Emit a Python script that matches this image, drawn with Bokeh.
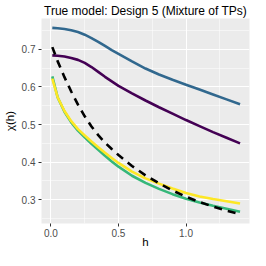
from bokeh.plotting import figure
from bokeh.models import Range1d, FixedTicker
from bokeh.embed import file_html
from bokeh.resources import INLINE

h = [0.01, 0.05, 0.1, 0.15, 0.2, 0.25, 0.3, 0.35, 0.4, 0.45, 0.5,
     0.6, 0.7, 0.8, 0.9, 1.0, 1.1, 1.2, 1.3, 1.4]

chi_purple = [0.684, 0.683, 0.681, 0.677, 0.672, 0.664, 0.653, 0.640, 0.627, 0.615, 0.603,
              0.583, 0.564, 0.546, 0.529, 0.512, 0.496, 0.480, 0.465, 0.450]
chi_blue = [0.757, 0.756, 0.754, 0.751, 0.746, 0.739, 0.730, 0.720, 0.709, 0.698, 0.688,
            0.668, 0.649, 0.633, 0.619, 0.606, 0.593, 0.580, 0.567, 0.554]
chi_green = [0.628, 0.572, 0.534, 0.506, 0.484, 0.466, 0.449, 0.433, 0.417, 0.402, 0.388,
             0.364, 0.345, 0.329, 0.315, 0.303, 0.293, 0.284, 0.276, 0.268]
chi_yellow = [0.622, 0.572, 0.536, 0.509, 0.488, 0.471, 0.455, 0.440, 0.425, 0.411, 0.398,
              0.375, 0.357, 0.343, 0.330, 0.318, 0.309, 0.302, 0.296, 0.290]
chi_true = [0.706, 0.668, 0.626, 0.588, 0.553, 0.522, 0.495, 0.472, 0.452, 0.435, 0.419,
            0.390, 0.365, 0.344, 0.325, 0.308, 0.294, 0.282, 0.271, 0.262]

series = [
    (chi_purple, "#440154"),
    (chi_blue, "#31688E"),
    (chi_green, "#35B779"),
    (chi_yellow, "#FDE725"),
]

x_ticks = [0.0, 0.5, 1.0]
x_minor = [0.25, 0.75, 1.25]
y_ticks = [0.3, 0.4, 0.5, 0.6, 0.7]
y_minor = [0.25, 0.35, 0.45, 0.55, 0.65, 0.75]

FONT = "Liberation Sans"

p = figure(width=250, height=250, output_backend="svg", toolbar_location=None,
           x_range=Range1d(-0.07, 1.47), y_range=Range1d(0.237, 0.782),
           title="True model: Design 5 (Mixture of TPs)",
           min_border_left=0, min_border_right=1, min_border_top=0, min_border_bottom=0)

p.background_fill_color = "#EBEBEB"
p.border_fill_color = "white"
p.outline_line_color = None

p.title.text_font = FONT
p.title.text_font_size = "12px"
p.title.text_font_style = "normal"
p.title.align = "center"
p.title.text_color = "black"
p.title.standoff = 2

p.xaxis.ticker = FixedTicker(ticks=x_ticks, minor_ticks=x_minor)
p.yaxis.ticker = FixedTicker(ticks=y_ticks, minor_ticks=y_minor)
p.xaxis.major_label_overrides = {0.0: "0.0", 0.5: "0.5", 1.0: "1.0"}

for ax in (p.xaxis, p.yaxis):
    ax.axis_line_color = None
    ax.major_tick_line_color = "#333333"
    ax.major_tick_in = 0
    ax.major_tick_out = 3
    ax.minor_tick_line_color = None
    ax.major_label_text_font = FONT
    ax.major_label_text_font_size = "10px"
    ax.major_label_text_color = "#4D4D4D"
    ax.axis_label_text_font = FONT
    ax.axis_label_text_font_size = "11.5px"
    ax.axis_label_text_font_style = "normal"
    ax.axis_label_text_color = "black"
    ax.major_label_standoff = 2

p.xaxis.major_label_standoff = 1
p.xaxis.axis_label_standoff = -4
p.yaxis.axis_label_standoff = 3

p.xaxis.axis_label = "h"
p.yaxis.axis_label = "χ(h)"

for g in (p.xgrid, p.ygrid):
    g.grid_line_color = "white"
    g.grid_line_width = 1.1
    g.minor_grid_line_color = "white"
    g.minor_grid_line_width = 0.5

for vals, col in series:
    p.line(h, vals, line_color=col, line_width=2.6)

p.line(h, chi_true, line_color="black", line_width=2.6, line_dash="8 6")

open("out.html", "w").write(file_html(p, INLINE))
